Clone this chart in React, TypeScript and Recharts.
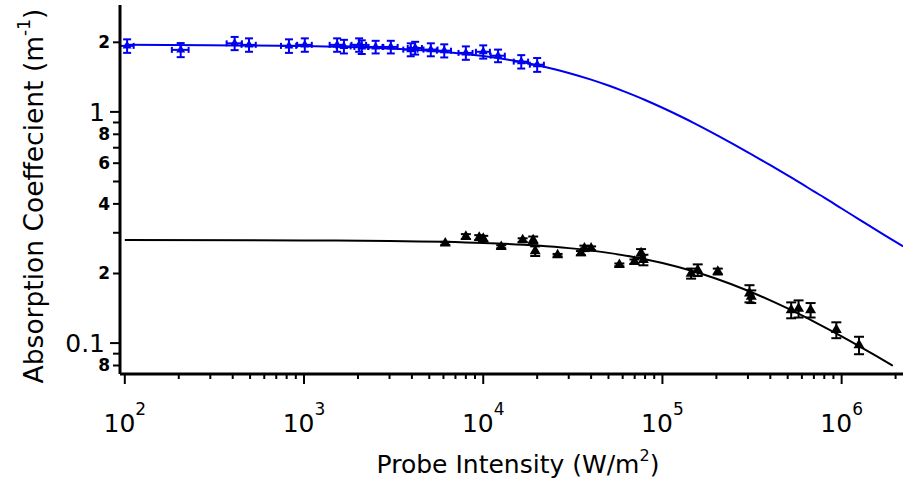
import { ComposedChart, Line, Scatter, ErrorBar, XAxis, YAxis } from 'recharts';

// blue data set
const blueI = [103, 205, 410, 493, 824, 1010, 1530, 1670, 2030, 2100, 2510, 3050, 3940, 4170, 5100, 6060, 8000, 10000, 12100, 16300, 20000];
const blueAlpha = [1.93, 1.855, 1.98, 1.95, 1.93, 1.95, 1.95, 1.92, 1.95, 1.91, 1.91, 1.91, 1.86, 1.89, 1.86, 1.84, 1.8, 1.82, 1.75, 1.65, 1.6];
const blueIErr = [9, 22, 40, 45, 80, 95, 140, 150, 190, 190, 230, 280, 360, 380, 460, 550, 720, 900, 1100, 1500, 1800];
const blueAlphaErr = [0.13, 0.13, 0.13, 0.13, 0.13, 0.13, 0.13, 0.13, 0.13, 0.13, 0.12, 0.12, 0.12, 0.12, 0.12, 0.12, 0.12, 0.12, 0.11, 0.11, 0.11];

// black data set
const blackI = [6140, 8000, 9500, 10000, 12600, 16600, 19000, 19500, 26000, 35100, 36700, 40000, 57500, 69800, 76000, 78300, 144500, 157400, 203700, 306000, 313000, 523000, 575000, 671000, 934000, 1250000];
const blackAlpha = [0.27, 0.289, 0.286, 0.283, 0.261, 0.279, 0.279, 0.25, 0.24, 0.245, 0.257, 0.257, 0.218, 0.225, 0.245, 0.229, 0.2, 0.207, 0.204, 0.164, 0.159, 0.139, 0.141, 0.139, 0.114, 0.098];
const blackAlphaErr = [0.004, 0.007, 0.007, 0.008, 0.004, 0.005, 0.01, 0.012, 0.003, 0.005, 0.007, 0.005, 0.003, 0.005, 0.01, 0.012, 0.01, 0.012, 0.006, 0.014, 0.01, 0.011, 0.012, 0.01, 0.009, 0.0085];

// fit curves
const blueFitI = [100, 300, 1000, 2000, 3000, 5000, 7000, 10000, 15000, 20000, 25000, 30000, 40000, 50000, 60000, 70000, 80000, 100000, 125000, 150000, 200000, 250000, 300000, 400000, 500000, 600000, 700000, 800000, 1000000, 1250000, 1500000, 1800000, 2200000];
const blueFitAlpha = [1.95, 1.943, 1.926, 1.903, 1.881, 1.838, 1.8, 1.744, 1.663, 1.592, 1.53, 1.474, 1.379, 1.3, 1.233, 1.176, 1.126, 1.042, 0.96, 0.895, 0.796, 0.724, 0.669, 0.588, 0.531, 0.488, 0.453, 0.426, 0.382, 0.343, 0.314, 0.288, 0.262];
const blackFitI = [100, 1000, 3000, 10000, 20000, 30000, 50000, 70000, 100000, 150000, 200000, 300000, 400000, 500000, 700000, 1000000, 1300000, 1600000, 1930000];
const blackFitAlpha = [0.279, 0.278, 0.2766, 0.2712, 0.2641, 0.2575, 0.2456, 0.2352, 0.2219, 0.2039, 0.1897, 0.1684, 0.153, 0.1412, 0.1239, 0.1069, 0.0954, 0.0869, 0.0798];

const xTicks = [100, 200, 300, 400, 500, 600, 700, 800, 900, 1000, 2000, 3000, 4000, 5000, 6000, 7000, 8000, 9000, 10000, 20000, 30000, 40000, 50000, 60000, 70000, 80000, 90000, 100000, 200000, 300000, 400000, 500000, 600000, 700000, 800000, 900000, 1000000, 2000000];
const yTicks = [2, 1, 0.9, 0.8, 0.7, 0.6, 0.5, 0.4, 0.3, 0.2, 0.1, 0.09, 0.08];
const yTickLabels = ['2', '1', '', '8', '', '6', '', '4', '', '2', '0.1', '', '8'];

const blueData = blueI.map((x, i) => ({ x, y: blueAlpha[i], xErr: blueIErr[i], yErr: blueAlphaErr[i] }));
const blackData = blackI.map((x, i) => ({ x, y: blackAlpha[i], yErr: blackAlphaErr[i] }));
const blueFit = blueFitI.map((x, i) => ({ x, y: blueFitAlpha[i] }));
const blackFit = blackFitI.map((x, i) => ({ x, y: blackFitAlpha[i] }));

const FONT = 'DejaVu Sans';
const BLUE = '#0000f0';

const triangle = (size: number, color: string) => (props: any) => {
  const { cx, cy } = props;
  if (cx == null || cy == null) return <g />;
  const h = size * 0.866;
  return (
    <polygon
      points={`${cx},${cy - (2 * h) / 3} ${cx - size / 2},${cy + h / 3} ${cx + size / 2},${cy + h / 3}`}
      fill={color}
    />
  );
};

const XTick = (props: any) => {
  const { x, y, payload } = props;
  const lg = Math.log10(payload.value);
  const major = Math.abs(lg - Math.round(lg)) < 1e-6;
  return (
    <g>
      <line x1={x} y1={y} x2={x} y2={y + (major ? 10 : 5)} stroke="#000" strokeWidth={2} />
      {major && (
        <text x={x} y={y + 58} textAnchor="middle" fontFamily={FONT} fontSize={25} fill="#000">
          10
          <tspan fontSize={17} dy={-17}>{Math.round(lg)}</tspan>
        </text>
      )}
    </g>
  );
};

const YTick = (props: any) => {
  const { x, y, payload } = props;
  const i = yTicks.indexOf(payload.value);
  const label = i >= 0 ? yTickLabels[i] : '';
  const major = label === '1' || label === '0.1';
  return (
    <g>
      <line x1={x - (major ? 10 : 7)} y1={y} x2={x} y2={y} stroke="#000" strokeWidth={2} />
      {label && (
        <text
          x={major ? x - 15 : x - 10}
          y={y}
          dy={major ? 9 : 6}
          textAnchor="end"
          fontFamily={FONT}
          fontSize={major ? 25 : 17}
          fontWeight={major ? 'normal' : 'bold'}
          fill="#000"
        >
          {label}
        </text>
      )}
    </g>
  );
};

const YLabel = () => (
  <text x={43} y={196} transform="rotate(-90 43 196)" textAnchor="middle" fontFamily={FONT} fontSize={26.5} fill="#000">
    Absorption Coeffecient (m
    <tspan fontSize={17} dy={-13}>-1</tspan>
    <tspan dy={13}>)</tspan>
  </text>
);

const XLabel = () => (
  <text x={518} y={473} textAnchor="middle" fontFamily={FONT} fontSize={25} fill="#000">
    Probe Intensity (W/m
    <tspan fontSize={16} dy={-12}>2</tspan>
    <tspan dy={12}>)</tspan>
  </text>
);

export default function App() {
  return (
    <div style={{ position: 'absolute', left: 0, top: 0, width: 903, height: 485, background: '#fff' }}>
      <ComposedChart width={903} height={485} margin={{ top: 5, right: 0, bottom: 0, left: 0 }}>
        <XAxis
          type="number"
          dataKey="x"
          scale="log"
          domain={[94, 2200000]}
          allowDataOverflow
          ticks={xTicks}
          interval={0}
          tick={<XTick />}
          tickLine={false}
          tickSize={0}
          tickMargin={0}
          height={111}
          axisLine={{ stroke: '#000', strokeWidth: 3 }}
          label={<XLabel />}
        />
        <YAxis
          type="number"
          dataKey="y"
          scale="log"
          domain={[0.0735, 2.9]}
          allowDataOverflow
          ticks={yTicks}
          interval={0}
          tick={<YTick />}
          tickLine={false}
          tickSize={0}
          tickMargin={0}
          width={120}
          axisLine={{ stroke: '#000', strokeWidth: 3 }}
          label={<YLabel />}
        />
        <Line data={blueFit} dataKey="y" type="monotone" stroke={BLUE} strokeWidth={2} dot={false} activeDot={false} isAnimationActive={false} />
        <Line data={blackFit} dataKey="y" type="monotone" stroke="#000" strokeWidth={2} dot={false} activeDot={false} isAnimationActive={false} />
        <Scatter data={blueData} dataKey="y" fill={BLUE} shape={triangle(9, BLUE)} isAnimationActive={false}>
          <ErrorBar dataKey="yErr" direction="y" width={4} stroke={BLUE} strokeWidth={2} />
          <ErrorBar dataKey="xErr" direction="x" width={3} stroke={BLUE} strokeWidth={2} />
        </Scatter>
        <Scatter data={blackData} dataKey="y" fill="#000" shape={triangle(11, '#000')} isAnimationActive={false}>
          <ErrorBar dataKey="yErr" direction="y" width={5} stroke="#000" strokeWidth={2} />
        </Scatter>
      </ComposedChart>
    </div>
  );
}
